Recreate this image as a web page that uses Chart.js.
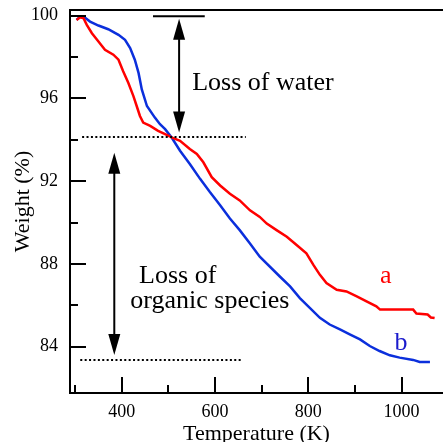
<!DOCTYPE html>
<html>
<head>
<meta charset="utf-8">
<script src="https://cdn.jsdelivr.net/npm/chart.js@4.4.1/dist/chart.umd.min.js"></script>
<style>
  html, body { margin: 0; padding: 0; background: #fff; overflow: hidden; }
  #wrap { width: 443px; height: 442px; position: relative; }
</style>
</head>
<body>
<div id="wrap"><canvas id="tga"></canvas></div>
<script>
// curve a (red)
const tempA = [303, 311, 318, 325, 336, 350, 364, 382, 393, 403, 414, 425, 432, 439, 446, 461, 478, 493, 507, 525, 546, 561, 575, 593, 611, 632, 653, 675, 696, 711, 732, 754, 775, 796, 811, 825, 839, 861, 882, 904, 925, 946, 954, 1025, 1032, 1056, 1063, 1071];
const weightA = [99.79, 99.92, 99.87, 99.55, 99.15, 98.75, 98.35, 98.11, 97.87, 97.31, 96.75, 96.11, 95.63, 95.15, 94.83, 94.67, 94.43, 94.27, 94.11, 93.95, 93.55, 93.31, 92.91, 92.19, 91.79, 91.39, 91.07, 90.59, 90.27, 89.95, 89.63, 89.31, 88.91, 88.51, 87.95, 87.47, 87.07, 86.75, 86.67, 86.43, 86.19, 85.95, 85.79, 85.79, 85.6, 85.55, 85.41, 85.38];

// curve b (blue)
const tempB = [303, 311, 318, 332, 350, 371, 393, 407, 418, 428, 436, 443, 454, 471, 482, 493, 507, 525, 546, 568, 589, 611, 632, 653, 675, 696, 739, 761, 782, 800, 825, 846, 868, 889, 911, 932, 953, 975, 996, 1025, 1039, 1061];
const weightB = [99.79, 99.95, 99.95, 99.71, 99.52, 99.34, 99.07, 98.83, 98.43, 97.87, 97.23, 96.43, 95.63, 95.07, 94.75, 94.51, 94.11, 93.47, 92.83, 92.11, 91.47, 90.83, 90.19, 89.63, 88.99, 88.35, 87.39, 86.91, 86.35, 85.95, 85.39, 85.07, 84.83, 84.59, 84.35, 84.03, 83.79, 83.58, 83.47, 83.36, 83.26, 83.26];

const xTicks = [400, 600, 800, 1000];
const xMinor = [300, 500, 700, 900];
const yTicks = [84, 88, 92, 96, 100];
const yMinor = [86, 90, 94, 98];

// annotation marks, in data units
const waterBar = [467, 578, 99.97];
const waterArrow = [523, 99.85, 94.35];
const organicArrow = [384, 93.37, 83.6];
const dottedLines = [[315, 666, 94.11], [311, 657, 83.34]];

const serif = "'Liberation Serif', 'DejaVu Serif', serif";

const toPts = (xs, ys) => xs.map((x, i) => ({ x: x, y: ys[i] }));

const drawArrow = (ctx, x, yTop, yBot) => {
  const head = 21, half = 6;
  ctx.beginPath();
  ctx.moveTo(x, yTop + head - 2);
  ctx.lineTo(x, yBot - head + 2);
  ctx.stroke();
  ctx.beginPath();
  ctx.moveTo(x, yTop);
  ctx.lineTo(x - half, yTop + head);
  ctx.lineTo(x + half, yTop + head);
  ctx.closePath();
  ctx.fill();
  ctx.beginPath();
  ctx.moveTo(x, yBot);
  ctx.lineTo(x - half, yBot - head);
  ctx.lineTo(x + half, yBot - head);
  ctx.closePath();
  ctx.fill();
};

const marksPlugin = {
  id: "marks",
  afterDatasetsDraw(chart) {
    const { ctx, chartArea: area, scales: { x, y } } = chart;
    ctx.save();
    ctx.strokeStyle = "#000";
    ctx.fillStyle = "#000";
    ctx.lineWidth = 2;

    // top frame line
    ctx.beginPath();
    ctx.moveTo(area.left - 1, area.top);
    ctx.lineTo(area.right, area.top);
    ctx.stroke();

    // inward ticks
    ctx.beginPath();
    xTicks.forEach(v => { const px = Math.round(x.getPixelForValue(v)); ctx.moveTo(px, area.bottom); ctx.lineTo(px, area.bottom - 16); });
    xMinor.forEach(v => { const px = Math.round(x.getPixelForValue(v)); ctx.moveTo(px, area.bottom); ctx.lineTo(px, area.bottom - 8); });
    yTicks.forEach(v => { const py = Math.round(y.getPixelForValue(v)); ctx.moveTo(area.left, py); ctx.lineTo(area.left + 16, py); });
    yMinor.forEach(v => { const py = Math.round(y.getPixelForValue(v)); ctx.moveTo(area.left, py); ctx.lineTo(area.left + 8, py); });
    ctx.stroke();

    // loss of water bar
    ctx.beginPath();
    ctx.moveTo(x.getPixelForValue(waterBar[0]), y.getPixelForValue(waterBar[2]));
    ctx.lineTo(x.getPixelForValue(waterBar[1]), y.getPixelForValue(waterBar[2]));
    ctx.stroke();

    drawArrow(ctx, x.getPixelForValue(waterArrow[0]), y.getPixelForValue(waterArrow[1]), y.getPixelForValue(waterArrow[2]));
    drawArrow(ctx, x.getPixelForValue(organicArrow[0]), y.getPixelForValue(organicArrow[1]), y.getPixelForValue(organicArrow[2]));

    // dotted guides
    ctx.setLineDash([2, 2.4]);
    dottedLines.forEach(d => {
      const py = Math.round(y.getPixelForValue(d[2]));
      ctx.beginPath();
      ctx.moveTo(x.getPixelForValue(d[0]), py);
      ctx.lineTo(x.getPixelForValue(d[1]), py);
      ctx.stroke();
    });
    ctx.setLineDash([]);

    // labels
    ctx.font = "26px " + serif;
    ctx.textBaseline = "alphabetic";
    ctx.textAlign = "left";
    ctx.fillText("Loss of water", x.getPixelForValue(551), y.getPixelForValue(96.4));
    ctx.textAlign = "center";
    ctx.fillText("Loss of", x.getPixelForValue(520), y.getPixelForValue(87.09));
    ctx.fillText("organic species", x.getPixelForValue(589), y.getPixelForValue(85.89));
    ctx.fillStyle = "#ff0000";
    ctx.fillText("a", x.getPixelForValue(966), y.getPixelForValue(87.1));
    ctx.fillStyle = "#1a1acc";
    ctx.fillText("b", x.getPixelForValue(999), y.getPixelForValue(83.85));
    ctx.restore();
  }
};

const ctx = document.getElementById("tga").getContext("2d");
new Chart(ctx, {
  type: "line",
  data: {
    datasets: [
      { label: "a", data: toPts(tempA, weightA), borderColor: "#ff0000", borderWidth: 2.5, pointRadius: 0, fill: false, tension: 0 },
      { label: "b", data: toPts(tempB, weightB), borderColor: "#0b2fdc", borderWidth: 2.5, pointRadius: 0, fill: false, tension: 0 }
    ]
  },
  options: {
    responsive: true,
    maintainAspectRatio: false,
    animation: false,
    layout: { padding: { top: 10, right: 0, left: 0, bottom: 0 } },
    plugins: { legend: { display: false }, tooltip: { enabled: false } },
    scales: {
      x: {
        type: "linear",
        min: 289,
        max: 1089,
        afterBuildTicks: s => { s.ticks = xTicks.map(v => ({ value: v })); },
        afterFit: s => { s.height = 49; s.paddingLeft = 0; s.paddingRight = 0; },
        grid: { display: false, drawTicks: false },
        border: { display: true, color: "#000", width: 2 },
        ticks: { color: "#000", font: { family: serif, size: 18 }, padding: 8, maxRotation: 0, callback: v => String(v) },
        title: { display: true, text: "Temperature (K)", color: "#000", font: { family: serif, size: 22 }, padding: { top: 0, bottom: -5 } }
      },
      y: {
        min: 81.76,
        max: 100.27,
        afterBuildTicks: s => { s.ticks = yTicks.map(v => ({ value: v })); },
        afterFit: s => { s.width = 70; s.paddingTop = 0; s.paddingBottom = 0; },
        grid: { display: false, drawTicks: false },
        border: { display: true, color: "#000", width: 2 },
        ticks: { color: "#000", font: { family: serif, size: 18 }, padding: 12, callback: v => String(v) },
        title: { display: true, text: "Weight (%)", color: "#000", font: { family: serif, size: 22 }, padding: { top: 10 } }
      }
    }
  },
  plugins: [marksPlugin]
});
</script>
</body>
</html>
